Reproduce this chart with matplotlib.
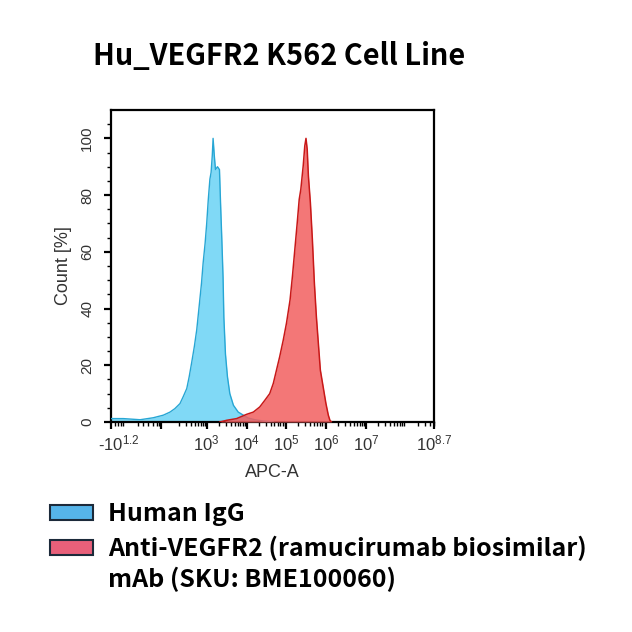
import matplotlib
matplotlib.use("Agg")
import matplotlib.pyplot as plt
from matplotlib.patches import Rectangle
import matplotlib.transforms as mtransforms
import numpy as np

plt.rcParams["mathtext.fontset"] = "custom"
plt.rcParams["mathtext.rm"] = "Liberation Sans"
plt.rcParams["mathtext.it"] = "Liberation Sans"
plt.rcParams["mathtext.default"] = "regular"

# APC-A position in decades (display units of the biexponential axis), count in %
blue_u = [0.60, 0.91, 1.33, 1.66, 1.91, 2.08, 2.20, 2.33, 2.41, 2.50, 2.56, 2.62,
          2.69, 2.75, 2.81, 2.87, 2.91, 2.96, 3.00, 3.04, 3.08, 3.11, 3.14, 3.16,
          3.19, 3.22, 3.27, 3.32, 3.35, 3.38, 3.41, 3.43, 3.47, 3.52, 3.58, 3.67,
          3.79, 3.92, 4.04, 4.21, 4.42, 4.67]
blue_pct = [1.2, 1.2, 0.8, 1.5, 2.4, 3.5, 4.7, 6.5, 8.9, 11.8, 15.9, 20.7,
            26.6, 32.5, 40.7, 49.0, 56.0, 63.0, 70.0, 78.5, 85.6, 88.0, 94.0, 100.0,
            94.0, 89.0, 90.0, 89.0, 76.0, 64.0, 51.0, 37.0, 24.0, 16.0, 10.0, 5.9,
            3.5, 2.4, 1.4, 0.8, 0.35, 0.0]

red_u = [3.33, 3.50, 3.75, 4.00, 4.17, 4.33, 4.46, 4.58, 4.67, 4.75, 4.83, 4.92,
         5.00, 5.09, 5.15, 5.21, 5.27, 5.32, 5.36, 5.42, 5.46, 5.49, 5.52, 5.55,
         5.60, 5.65, 5.70, 5.75, 5.80, 5.85, 5.92, 5.99, 6.05, 6.09, 6.13]
red_pct = [0.0, 0.6, 1.2, 2.7, 3.5, 5.3, 7.7, 10.0, 13.6, 18.3, 23.0, 28.9,
           34.8, 43.0, 51.4, 60.8, 70.2, 78.5, 82.0, 90.3, 97.4, 100.0, 96.2, 86.8,
           77.3, 64.3, 49.0, 37.2, 27.7, 18.3, 12.4, 6.5, 2.4, 0.6, 0.0]

x_major = [0.6, 1.85, 3, 4, 5, 6, 7, 8.7]
x_labels = ["-$10^{1.2}$", "", "$10^{3}$", "$10^{4}$", "$10^{5}$", "$10^{6}$", "$10^{7}$", "$10^{8.7}$"]
y_major = [0, 20, 40, 60, 80, 100]

series_names = ["Human IgG", "Anti-VEGFR2 (ramucirumab biosimilar)\nmAb (SKU: BME100060)"]
legend_colors = ["#56b4e9", "#e8607a"]

fig = plt.figure(figsize=(6.32, 6.32), dpi=100)
ax = fig.add_axes([111 / 632, 1 - 422 / 632, 323 / 632, 312 / 632])

ax.fill_between(blue_u, blue_pct, color="#80d9f6", lw=0, zorder=2)
ax.plot(blue_u, blue_pct, color="#27a6d4", lw=1.0, zorder=3)
ax.fill_between(red_u, red_pct, color="#f25f5f", alpha=0.85, lw=0, zorder=4)
ax.plot(red_u, red_pct, color="#c81818", lw=1.1, zorder=5)

ax.set_xlim(0.6, 8.7)
ax.set_ylim(0, 110)

# minor ticks: log style inside each decade
minors = [0.70, 0.78, 0.85, 0.90, 1.28, 1.40, 1.53, 1.65, 1.75, 1.80]
for d in range(2, 9):
    for k in range(2, 10):
        v = d + np.log10(k)
        if v < 8.7:
            minors.append(v)
ax.set_xticks(x_major)
ax.set_xticklabels(x_labels)
ax.set_xticks(minors, minor=True)
ax.set_yticks(y_major)
ax.set_yticks([v for v in range(5, 110, 5) if v % 20], minor=True)

for s in ax.spines.values():
    s.set_linewidth(1.6)
ax.tick_params(axis="both", which="major", length=5, width=1.6, direction="out",
               labelcolor="#333333")
ax.tick_params(axis="both", which="minor", length=3, width=1.0, direction="out")
ax.tick_params(axis="x", which="major", pad=3, labelsize=12)
ax.tick_params(axis="y", which="major", pad=7, labelsize=11)
for lab in ax.get_yticklabels():
    lab.set_rotation(90)
    lab.set_va("center")
    lab.set_family("Liberation Sans")
for lab in ax.get_xticklabels():
    lab.set_family("Liberation Sans")
first = ax.get_xticklabels()[0]
first.set_transform(first.get_transform() + mtransforms.ScaledTranslation(8 / 100, 0, fig.dpi_scale_trans))

ax.set_xlabel("APC-A", fontsize=13, color="#333333", family="Liberation Sans", labelpad=8)
ax.set_ylabel("Count [%]", fontsize=13, color="#333333", family="Liberation Sans", labelpad=6)

fig.text(93 / 632, 1 - 56 / 632, "Hu_VEGFR2 K562 Cell Line", fontsize=20.8, fontweight="bold",
         family="Noto Sans CJK SC", va="center", ha="left")

# legend drawn by hand: one swatch per series, text lines placed on baselines
swatch_y = [512, 547]
line_baselines = [[521], [556, 587]]
for name, c, yy, bases in zip(series_names, legend_colors, swatch_y, line_baselines):
    fig.add_artist(Rectangle((50 / 632, 1 - (yy + 7.5) / 632), 43 / 632, 15 / 632,
                             transform=fig.transFigure, facecolor=c, edgecolor="#1c2a3a", lw=1.5))
    for line, b in zip(name.split("\n"), bases):
        fig.text(108 / 632, 1 - b / 632, line, fontsize=18, fontweight="bold",
                 family="Noto Sans CJK SC", va="baseline", ha="left")

fig.savefig("out.png", dpi=100, facecolor="white")
